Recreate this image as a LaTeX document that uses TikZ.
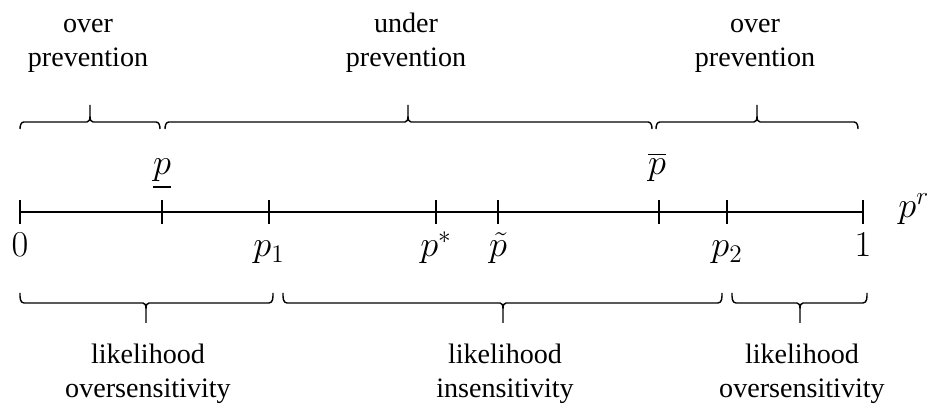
\documentclass[tikz,border=0pt]{standalone}
\usepackage{amsmath,amssymb}
\usepackage{fontspec}
\setmainfont{Liberation Serif}
\usepackage{tikz}
\usetikzlibrary{positioning}
\tikzset{
  axisline/.style={line width=1.1pt, black},
  tickmark/.style={line width=1.1pt, black},
  bracepath/.style={line width=0.8pt, black},
  ticklab/.style={anchor=base, inner sep=0pt, font=\fontsize{20}{24}\selectfont},
  regionlab/.style={align=center, inner sep=0pt, font=\fontsize{16}{19.4}\selectfont},
}
\begin{document}
\begin{tikzpicture}[x=0.02cm, y=0.02cm]
  \useasboundingbox (0,0) rectangle (933,404);
  % number line
  \coordinate (lo) at (20,192);
  \coordinate (hi) at (863,192);
  \draw[axisline] (lo) -- (hi);
  \node[ticklab, anchor=base west] (pr) at (898,186) {$p^r$};
  % ticks with labels below
  \foreach \x/\nm/\lab in {20/tzero/0, 269/tone/p_1, 436/tstar/p^*, 498/ttil/\tilde{p}, 727/ttwo/p_2, 863/tend/1} {
    \draw[tickmark] (\x,180) -- (\x,204);
    \node[ticklab] (\nm) at (\x,147) {$\lab$};
  }
  % ticks with labels above
  \draw[tickmark] (162,180) -- (162,204);
  \node[ticklab] (plow) at (162,229) {$\underline{p}$};
  \draw[tickmark] (659,180) -- (659,204);
  \node[ticklab] (phigh) at (657,229) {$\overline{p}$};
  % braces on top
  \foreach \xa/\xb/\xm/\nm/\txt in {20/160/90/over1/over\\prevention, 165/652/408/under/under\\prevention, 656/858/757/over2/over\\prevention} {
    \draw[bracepath] (\xa,275) to[out=90,in=180] (\xa+4,282) -- (\xm-3,282)
      .. controls (\xm-1,282) and (\xm,284) .. (\xm,288) -- (\xm,299)
      -- (\xm,288) .. controls (\xm,284) and (\xm+1,282) .. (\xm+3,282)
      -- (\xb-4,282) to[out=0,in=90] (\xb,275);
    \node[regionlab, anchor=north] (\nm) at (\xm-2,396) {\strut\txt};
  }
  % braces below
  \foreach \xa/\xb/\xm/\nm/\txt in {20/273/146/lik1/likelihood\\oversensitivity, 283/722/503/lik2/likelihood\\insensitivity, 732/867/800/lik3/likelihood\\oversensitivity} {
    \draw[bracepath] (\xa,111) to[out=-90,in=180] (\xa+4,101) -- (\xm-3,101)
      .. controls (\xm-1,101) and (\xm,99) .. (\xm,95) -- (\xm,81)
      -- (\xm,95) .. controls (\xm,99) and (\xm+1,101) .. (\xm+3,101)
      -- (\xb-4,101) to[out=0,in=-90] (\xb,111);
    \node[regionlab, anchor=north] (\nm) at (\xm+2,65) {\strut\txt};
  }
\end{tikzpicture}
\end{document}
